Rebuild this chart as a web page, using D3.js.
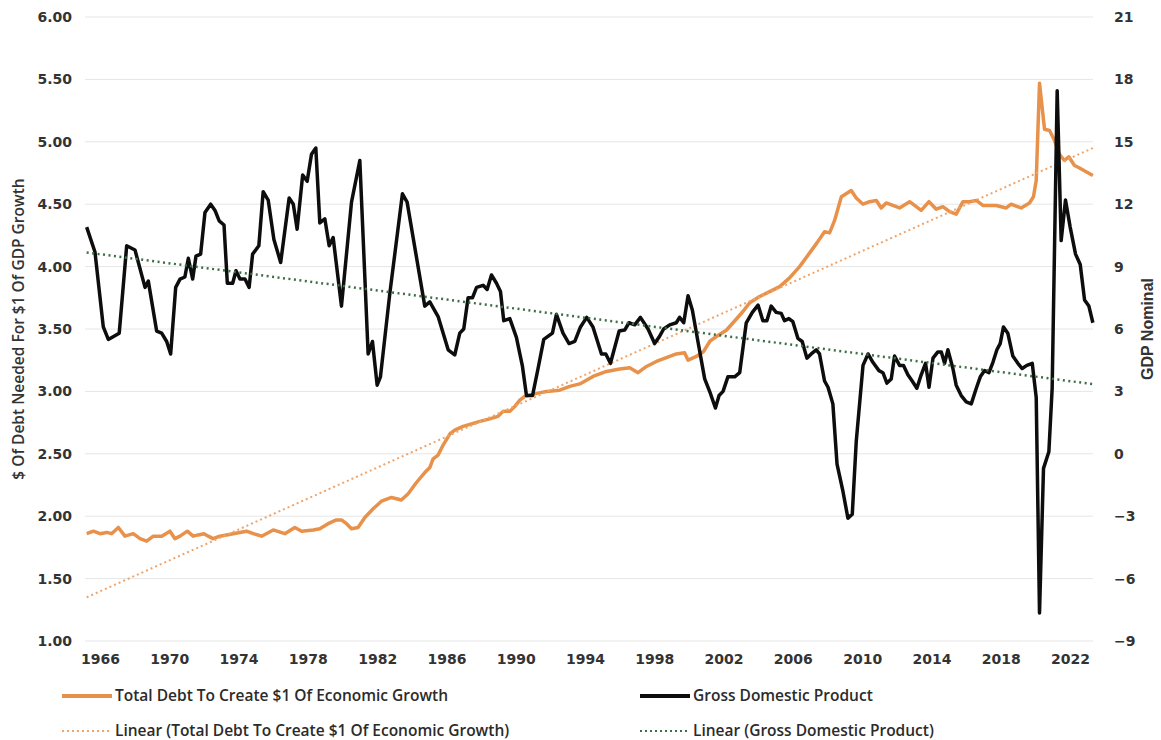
<!DOCTYPE html>
<html>
<head>
<meta charset="utf-8">
<script src="https://cdn.jsdelivr.net/npm/d3@7"></script>
<style>
    body { margin: 0; background: #fff; }
    .tick text { font-family: "DejaVu Sans", sans-serif; font-weight: bold; font-size: 14px; fill: #333; }
    .legendText { font-family: "Open Sans", sans-serif; font-weight: 600; font-size: 15.5px; fill: #2b2b2b; }
</style>
</head>
<body>
<script>
(function(){

//debt needed per $1 of GDP growth (left axis)
var debtYears = [1965.23,1965.62,1966.0,1966.39,1966.67,1967.06,1967.44,1967.92,1968.31,1968.69,1969.08,1969.56,1970.04,1970.33,1970.62,1971.04,1971.38,1971.67,1972.0,1972.25,1972.53,1972.92,1973.69,1974.46,1974.85,1975.33,1976.0,1976.67,1977.25,1977.64,1978.31,1978.69,1979.17,1979.65,1979.94,1980.23,1980.52,1980.9,1981.29,1981.77,1982.25,1982.83,1983.4,1983.79,1984.27,1984.75,1985.04,1985.23,1985.52,1985.81,1986.2,1986.48,1986.96,1987.45,1987.93,1988.5,1988.98,1989.27,1989.66,1989.95,1990.24,1990.52,1991.1,1991.77,1992.54,1993.12,1993.7,1994.46,1995.24,1996.0,1996.58,1997.06,1997.55,1998.12,1998.7,1999.27,1999.75,1999.95,2000.43,2000.85,2001.2,2001.58,2002.16,2002.74,2003.12,2003.51,2004.08,2004.66,2005.24,2005.81,2006.39,2006.97,2007.39,2007.83,2008.12,2008.41,2008.8,2009.37,2009.66,2010.05,2010.43,2010.82,2011.1,2011.39,2012.16,2012.74,2013.41,2013.86,2014.28,2014.66,2015.05,2015.43,2015.82,2016.2,2016.59,2016.97,2017.74,2018.32,2018.6,2019.18,2019.66,2019.89,2020.05,2020.24,2020.53,2020.82,2021.11,2021.39,2021.68,2021.93,2022.26,2022.55,2022.93,2023.32];
var debtValues = [1.86,1.88,1.86,1.87,1.86,1.91,1.84,1.86,1.82,1.80,1.84,1.84,1.88,1.82,1.84,1.88,1.84,1.85,1.86,1.84,1.82,1.84,1.86,1.88,1.86,1.84,1.89,1.86,1.91,1.88,1.89,1.90,1.94,1.97,1.97,1.94,1.90,1.91,1.99,2.06,2.12,2.15,2.13,2.18,2.27,2.35,2.39,2.46,2.49,2.57,2.66,2.69,2.72,2.74,2.76,2.78,2.80,2.84,2.84,2.88,2.93,2.96,2.98,3.00,3.01,3.04,3.06,3.12,3.16,3.18,3.19,3.15,3.20,3.24,3.27,3.30,3.31,3.25,3.28,3.32,3.40,3.44,3.49,3.58,3.64,3.71,3.76,3.80,3.84,3.91,4.00,4.11,4.19,4.28,4.27,4.37,4.56,4.61,4.55,4.50,4.52,4.53,4.47,4.51,4.47,4.52,4.45,4.52,4.46,4.48,4.44,4.42,4.52,4.52,4.53,4.49,4.49,4.47,4.50,4.47,4.51,4.56,4.69,5.47,5.10,5.09,5.01,4.90,4.85,4.88,4.81,4.79,4.76,4.73];

//nominal GDP growth, % (right axis)
var gdpYears = [1965.23,1965.71,1966.19,1966.48,1967.11,1967.54,1968.02,1968.6,1968.79,1969.27,1969.56,1969.85,1970.08,1970.37,1970.62,1970.9,1971.1,1971.35,1971.54,1971.81,1972.06,1972.39,1972.64,1972.88,1973.16,1973.35,1973.66,1973.85,1974.08,1974.37,1974.61,1974.81,1975.17,1975.42,1975.71,1976.04,1976.43,1976.92,1977.16,1977.38,1977.7,1977.96,1978.21,1978.46,1978.69,1978.98,1979.23,1979.46,1979.94,1980.52,1981.0,1981.48,1981.73,1982.0,1982.19,1982.73,1983.46,1983.73,1984.75,1985.04,1985.52,1986.1,1986.48,1986.77,1987.0,1987.25,1987.5,1987.74,1988.12,1988.35,1988.6,1988.89,1989.12,1989.31,1989.66,1990.04,1990.39,1990.62,1990.97,1991.29,1991.62,1992.12,1992.35,1992.73,1993.08,1993.41,1993.74,1994.1,1994.46,1994.95,1995.2,1995.47,1995.97,1996.29,1996.54,1996.87,1997.2,1997.64,1998.02,1998.27,1998.54,1998.89,1999.27,1999.46,1999.7,1999.95,2000.2,2000.52,2000.91,2001.24,2001.53,2001.74,2001.97,2002.25,2002.64,2002.93,2003.31,2003.66,2003.99,2004.27,2004.5,2004.75,2005.04,2005.33,2005.52,2005.77,2006.0,2006.29,2006.54,2006.81,2007.06,2007.35,2007.54,2007.83,2008.03,2008.31,2008.55,2008.89,2009.18,2009.43,2009.66,2010.05,2010.34,2010.62,2010.97,2011.2,2011.43,2011.68,2011.87,2012.16,2012.39,2012.64,2012.89,2013.16,2013.41,2013.66,2013.86,2014.09,2014.37,2014.57,2014.76,2014.95,2015.24,2015.43,2015.72,2016.01,2016.3,2016.59,2016.82,2017.07,2017.32,2017.55,2017.78,2017.97,2018.16,2018.41,2018.7,2018.99,2019.24,2019.51,2019.82,2020.05,2020.24,2020.47,2020.78,2020.97,2021.26,2021.49,2021.74,2022.01,2022.32,2022.59,2022.84,2023.09,2023.32];
var gdpValues = [10.9,9.7,6.1,5.5,5.8,10.0,9.8,8.0,8.3,5.9,5.8,5.4,4.8,8.0,8.4,8.5,9.4,8.4,9.5,9.6,11.6,12.0,11.7,11.2,11.0,8.2,8.2,8.8,8.4,8.4,8.0,9.6,10.0,12.6,12.2,10.3,9.2,12.3,12.0,10.8,13.4,13.1,14.4,14.7,11.1,11.3,10.0,10.4,7.1,12.1,14.1,4.8,5.4,3.3,3.7,7.7,12.5,12.1,7.1,7.3,6.6,5.0,4.75,5.8,6.0,7.5,7.5,8.0,8.1,7.9,8.6,8.2,7.8,6.4,6.5,5.6,4.2,2.8,2.8,4.1,5.5,5.8,6.7,5.8,5.3,5.4,6.1,6.56,6.1,4.8,4.8,4.35,5.9,5.95,6.3,6.2,6.56,6.0,5.3,5.6,6.0,6.2,6.3,6.56,6.3,7.6,6.9,5.4,3.6,2.9,2.2,2.8,3.0,3.7,3.7,3.9,6.3,6.8,7.15,6.4,6.4,7.1,6.8,6.75,6.4,6.5,6.35,5.55,5.4,4.6,4.8,5.0,4.8,3.5,3.2,2.4,-0.5,-1.8,-3.1,-2.9,0.6,4.25,4.8,4.4,4.0,3.9,3.4,3.6,4.7,4.25,4.25,3.8,3.5,3.15,3.8,4.35,3.2,4.6,4.9,4.9,4.35,5.0,4.1,3.3,2.8,2.5,2.4,3.15,3.7,4.0,3.9,4.4,5.0,5.3,6.1,5.8,4.7,4.35,4.1,4.25,4.35,2.7,-7.65,-0.7,0.1,3.15,17.45,10.25,12.2,10.9,9.6,9.1,7.4,7.1,6.3];

//linear trendlines (start, end)
var trendYears = [1965.23, 2023.32];
var debtTrend = [1.35, 4.95];
var gdpTrend = [9.68, 3.35];

//axis ticks
var leftTicks = [1, 1.5, 2, 2.5, 3, 3.5, 4, 4.5, 5, 5.5, 6];
var rightTicks = [-9, -6, -3, 0, 3, 6, 9, 12, 15, 18, 21];
var yearTicks = [1966, 1970, 1974, 1978, 1982, 1986, 1990, 1994, 1998, 2002, 2006, 2010, 2014, 2018, 2022];

//legend entries
var legendLabels = ["Total Debt To Create $1 Of Economic Growth", "Gross Domestic Product",
    "Linear (Total Debt To Create $1 Of Economic Growth)", "Linear (Gross Domestic Product)"];

//frame
var width = 1161,
    height = 740,
    plotLeft = 85,
    plotRight = 1093,
    plotTop = 17,
    plotBottom = 641;

var orange = "#E8914A",
    orangeTrend = "#EFA46A",
    greenTrend = "#3E6E48";

window.onload = drawChart();

function drawChart(){

    var svg = d3.select("body")
        .append("svg")
        .attr("width", width)
        .attr("height", height);

    //scales
    var x = d3.scaleLinear()
        .domain([1966, 2022])
        .range([100, 1070]);

    var yLeft = d3.scaleLinear()
        .domain([1, 6])
        .range([plotBottom, plotTop]);

    var yRight = d3.scaleLinear()
        .domain([-9, 21])
        .range([plotBottom, plotTop]);

    //gridlines
    svg.selectAll(".grid")
        .data(leftTicks)
        .enter()
        .append("line")
        .attr("class", "grid")
        .attr("x1", plotLeft)
        .attr("x2", plotRight)
        .attr("y1", function(d){ return yLeft(d); })
        .attr("y2", function(d){ return yLeft(d); })
        .style("stroke", "#e6e6e6")
        .style("stroke-width", 1);

    //axes (no domain lines, labels only)
    var leftAxis = svg.append("g")
        .attr("transform", "translate(72,0)")
        .call(d3.axisLeft(yLeft).tickValues(leftTicks).tickFormat(d3.format(".2f")).tickSize(0).tickPadding(0));

    var rightAxis = svg.append("g")
        .attr("transform", "translate(1114,0)")
        .call(d3.axisRight(yRight).tickValues(rightTicks).tickFormat(d3.format("d")).tickSize(0).tickPadding(0));

    var bottomAxis = svg.append("g")
        .attr("transform", "translate(0,654)")
        .call(d3.axisBottom(x).tickValues(yearTicks).tickFormat(d3.format("d")).tickSize(0).tickPadding(0));

    [leftAxis, rightAxis, bottomAxis].forEach(function(a){
        a.select(".domain").remove();
    });

    //axis titles
    svg.append("text")
        .attr("transform", "translate(24," + ((plotTop + plotBottom) / 2) + ") rotate(-90)")
        .attr("text-anchor", "middle")
        .style("font-family", "'Open Sans', sans-serif")
        .style("font-weight", 600)
        .style("font-size", "15.5px")
        .style("fill", "#333")
        .text("$ Of Debt Needed For $1 Of GDP Growth");

    svg.append("text")
        .attr("transform", "translate(1153," + ((plotTop + plotBottom) / 2) + ") rotate(-90)")
        .attr("text-anchor", "middle")
        .style("font-family", "'Liberation Sans Narrow', 'Liberation Sans', sans-serif")
        .style("font-weight", "bold")
        .style("font-size", "16px")
        .style("fill", "#333")
        .text("GDP Nominal");

    //line generators
    var debtLine = d3.line()
        .x(function(d, i){ return x(debtYears[i]); })
        .y(function(d){ return yLeft(d); });

    var gdpLine = d3.line()
        .x(function(d, i){ return x(gdpYears[i]); })
        .y(function(d){ return yRight(d); });

    var debtTrendLine = d3.line()
        .x(function(d, i){ return x(trendYears[i]); })
        .y(function(d){ return yLeft(d); });

    var gdpTrendLine = d3.line()
        .x(function(d, i){ return x(trendYears[i]); })
        .y(function(d){ return yRight(d); });

    //debt series + trend
    svg.append("path")
        .datum(debtValues)
        .attr("d", debtLine)
        .style("fill", "none")
        .style("stroke", orange)
        .style("stroke-width", 3.5)
        .style("stroke-linejoin", "round");

    svg.append("path")
        .datum(debtTrend)
        .attr("d", debtTrendLine)
        .style("fill", "none")
        .style("stroke", orangeTrend)
        .style("stroke-width", 2)
        .style("stroke-dasharray", "2,3");

    //gdp series + trend
    svg.append("path")
        .datum(gdpValues)
        .attr("d", gdpLine)
        .style("fill", "none")
        .style("stroke", "#0d0d0d")
        .style("stroke-width", 3.5)
        .style("stroke-linejoin", "round");

    svg.append("path")
        .datum(gdpTrend)
        .attr("d", gdpTrendLine)
        .style("fill", "none")
        .style("stroke", greenTrend)
        .style("stroke-width", 2.5)
        .style("stroke-dasharray", "2,3.5");

    //legend
    var legendStyles = [
        {stroke: orange, width: 4, dash: null},
        {stroke: "#0d0d0d", width: 4, dash: null},
        {stroke: orangeTrend, width: 2, dash: "2,3"},
        {stroke: greenTrend, width: 2, dash: "2,3"}
    ];
    var legendX = [62, 640],
        legendY = [696, 731];

    var legend = svg.selectAll(".legend")
        .data(legendLabels)
        .enter()
        .append("g")
        .attr("class", "legend")
        .attr("transform", function(d, i){
            return "translate(" + legendX[i % 2] + "," + legendY[Math.floor(i / 2)] + ")";
        });

    legend.append("line")
        .attr("x1", 0)
        .attr("x2", 50)
        .style("stroke", function(d, i){ return legendStyles[i].stroke; })
        .style("stroke-width", function(d, i){ return legendStyles[i].width; })
        .style("stroke-dasharray", function(d, i){ return legendStyles[i].dash; });

    legend.append("text")
        .attr("class", "legendText")
        .attr("x", 53)
        .attr("y", 5)
        .text(function(d){ return d; });
};

})();
</script>
</body>
</html>
